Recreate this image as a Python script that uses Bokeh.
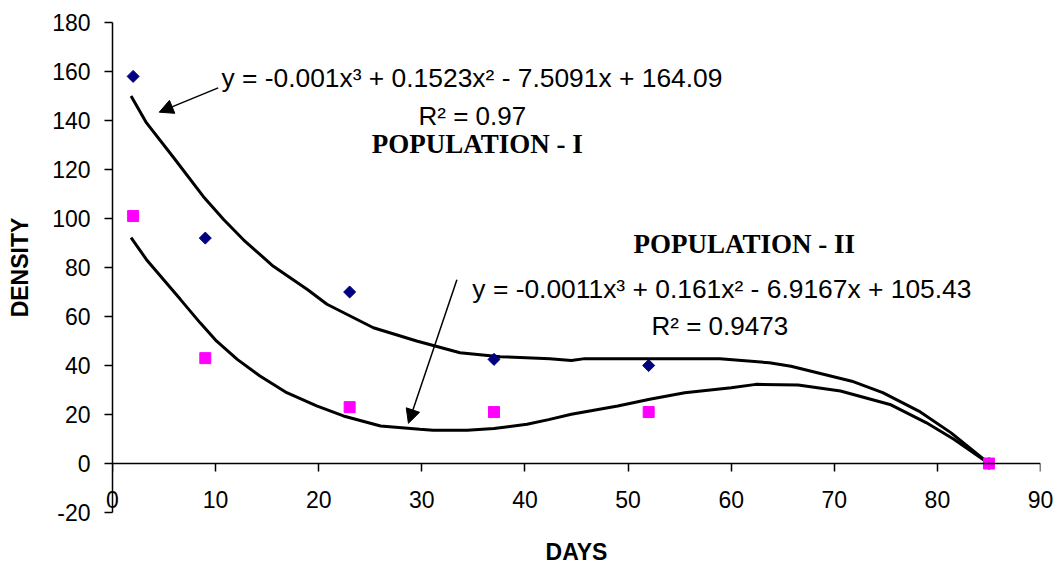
from bokeh.plotting import figure
from bokeh.models import Label, Arrow, NormalHead, FixedTicker, Range1d, LinearAxis
from bokeh.embed import file_html
from bokeh.resources import INLINE
import numpy as np

# ---- data ----
days = [2, 9, 23, 37, 52, 85]
pop1_density = [158, 92, 70, 42.5, 40, 0]
pop2_density = [101, 43, 23, 21, 21, 0]

# trend curves (as drawn in the reference)
trend1_x = [1.8, 3.3, 5.9, 8.8, 10.8, 12.7, 15.6, 18.9, 20.8, 25.3, 29.5, 33.7, 37.6,
            42.4, 44.5, 45.8, 50.0, 55.0, 58.9, 63.7, 65.8, 71.7, 74.7, 78.2, 81.3, 85.0]
trend1_y = [150, 139, 125, 109, 99.5, 91.3, 80.5, 71.0, 65.0, 55.4, 50.0, 45.2, 43.6,
            42.8, 42.0, 42.8, 42.8, 42.8, 42.8, 41.1, 39.7, 33.6, 28.9, 21.4, 12.6, 0]
trend2_x = [1.8, 3.3, 6.6, 8.5, 10.1, 12.1, 14.3, 16.9, 19.8, 22.4, 26.0, 29.8, 31.1,
            34.4, 37.0, 40.2, 42.3, 44.5, 49.0, 52.1, 55.5, 60.0, 62.4, 66.5, 70.6,
            75.4, 78.9, 81.6, 85.0]
trend2_y = [92.2, 83.2, 66.9, 57.4, 49.9, 42.5, 35.7, 28.9, 23.5, 19.4, 15.3, 14.0, 13.6,
            13.6, 14.3, 16.0, 17.9, 20.1, 23.5, 26.2, 28.9, 30.9, 32.3, 32.0, 29.6,
            24.1, 16.7, 9.9, 0]

x_ticks = [0, 10, 20, 30, 40, 50, 60, 70, 80, 90]
y_ticks = [-20, 0, 20, 40, 60, 80, 100, 120, 140, 160, 180]

eq1 = "y = -0.001x³ + 0.1523x² - 7.5091x + 164.09"
r1 = "R² = 0.97"
eq2 = "y = -0.0011x³ + 0.161x² - 6.9167x + 105.43"
r2 = "R² = 0.9473"
name1 = "POPULATION - I"
name2 = "POPULATION - II"
x_title = "DAYS"
y_title = "DENSITY"

SANS = "Liberation Sans"
SERIF = "Liberation Serif"

p = figure(width=1054, height=567,
           x_range=Range1d(0, 90), y_range=Range1d(-20, 180),
           output_backend="svg", toolbar_location=None,
           min_border_left=112, min_border_right=14,
           min_border_top=22, min_border_bottom=54)
p.xgrid.visible = False
p.ygrid.visible = False
p.outline_line_color = None
p.background_fill_color = "white"
p.border_fill_color = "white"

# x axis line and ticks crossing at y = 0 (labels come from the axis below)
xa = p.xaxis[0]
xa.fixed_location = 0
xa.ticker = FixedTicker(ticks=x_ticks)
xa.major_label_overrides = {t: "" for t in x_ticks}
xa.major_label_text_font_size = "0px"
xa.major_label_standoff = 0
xa.major_tick_in = 0
xa.major_tick_out = 8
xa.minor_tick_line_color = None
xa.axis_line_width = 1.5
xa.major_tick_line_width = 1.5
xa.axis_line_color = "black"
xa.major_tick_line_color = "black"

# tick labels and title below the frame
label_axis = LinearAxis(ticker=FixedTicker(ticks=x_ticks),
                        major_label_overrides={t: str(t) for t in x_ticks},
                        axis_line_color=None, major_tick_line_color=None,
                        minor_tick_line_color=None, major_tick_in=0, major_tick_out=0,
                        major_label_standoff=-22,
                        major_label_text_font=SANS, major_label_text_font_size="23px",
                        major_label_text_color="black",
                        axis_label=x_title, axis_label_standoff=28,
                        axis_label_text_font=SANS, axis_label_text_font_style="bold",
                        axis_label_text_font_size="23px", axis_label_text_color="black")
p.add_layout(label_axis, "below")

ya = p.yaxis[0]
ya.ticker = FixedTicker(ticks=y_ticks)
ya.major_label_overrides = {t: str(t) for t in y_ticks}
ya.major_tick_in = 0
ya.major_tick_out = 8
ya.minor_tick_line_color = None
ya.axis_line_width = 1.5
ya.major_tick_line_width = 1.5
ya.axis_line_color = "black"
ya.major_tick_line_color = "black"
ya.major_label_standoff = 14
ya.major_label_text_font = SANS
ya.major_label_text_font_size = "23px"
ya.major_label_text_color = "black"
ya.axis_label = y_title
ya.axis_label_text_font = SANS
ya.axis_label_text_font_style = "bold"
ya.axis_label_text_font_size = "23px"
ya.axis_label_text_color = "black"
ya.axis_label_standoff = 16

# trend lines
p.line(trend1_x, trend1_y, line_color="black", line_width=3)
p.line(trend2_x, trend2_y, line_color="black", line_width=3)

# data points
p.scatter(days, pop1_density, marker="square", angle=np.pi / 4, size=8.5,
          fill_color="#000080", line_color="#000080")
p.scatter(days, pop2_density, marker="square", size=11,
          fill_color="#FF00FF", line_color="#FF00FF")

# annotations
def lab(x, y, text, font=SANS, size="26px", style="normal"):
    p.add_layout(Label(x=x, y=y, text=text, text_align="center",
                       text_baseline="alphabetic", text_font=font,
                       text_font_size=size, text_font_style=style,
                       text_color="black"))

lab(34.86, 157.2, eq1, size="26.4px")
lab(34.9, 141.9, r1)
lab(35.37, 130.4, name1, font=SERIF, size="27px", style="bold")
lab(61.27, 89.7, name2, font=SERIF, size="27px", style="bold")
lab(59.1, 71.4, eq2, size="26.4px")
lab(58.9, 56.1, r2)

p.add_layout(Arrow(x_start=10.25, y_start=153.3, x_end=4.53, y_end=143.4,
                   line_color="black", line_width=1.5,
                   end=NormalHead(size=14, fill_color="black", line_color="black")))
p.add_layout(Arrow(x_start=33.4, y_start=75.0, x_end=28.7, y_end=16.4,
                   line_color="black", line_width=1.5,
                   end=NormalHead(size=14, fill_color="black", line_color="black")))

open("out.html", "w").write(file_html(p, INLINE))
